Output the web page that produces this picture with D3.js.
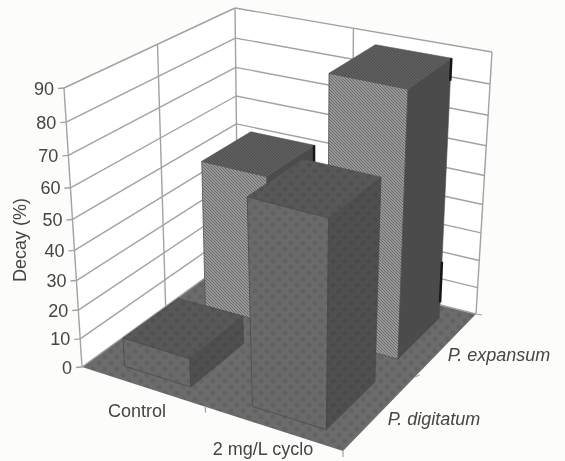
<!DOCTYPE html>
<html><head><meta charset="utf-8">
<script src="https://cdn.jsdelivr.net/npm/d3@7/dist/d3.min.js"></script>
<style>html,body{margin:0;padding:0;background:#fcfcfb}svg{display:block}text{font-family:"Liberation Sans",Arial,sans-serif;fill:#444}</style>
</head><body><svg id="c" width="565" height="461"></svg>
<script>
const categories=["Control","2 mg/L cyclo"];
const seriesNames=["P. digitatum","P. expansum"];
const digitatum=[10,68];
const expansum=[52,89];
const zTicks=[0,10,20,30,40,50,60,70,80,90];

// Perspective frame of the 3D plot (left, front, right, back corners)
const floorQuad=[[82,367],[343,451],[476,314],[238,254]];
const ceilQuad=[[64,88],[349,160],[492,52],[235,8]];
function squareToQuad(q){
  const [[x0,y0],[x1,y1],[x2,y2],[x3,y3]]=q;
  const dx1=x1-x2,dx2=x3-x2,sx=x0-x1+x2-x3,dy1=y1-y2,dy2=y3-y2,sy=y0-y1+y2-y3;
  const d=dx1*dy2-dx2*dy1;
  const g=(sx*dy2-dx2*sy)/d,h=(dx1*sy-sx*dy1)/d;
  const a=x1-x0+g*x1,b=x3-x0+h*x3,c=x0,e=y1-y0+g*y1,f=y3-y0+h*y3,k=y0;
  return (s,t)=>{const w=g*s+h*t+1;return [(a*s+b*t+c)/w,(e*s+f*t+k)/w];};
}
const Hf=squareToQuad(floorQuad),Hc=squareToQuad(ceilQuad);
const zScale=d3.scaleLinear().domain([0,90]).range([0,1]);
const warp=t=>t/(t+(1-t)*1.114);
function P(s,t,z){const a=Hf(s,t),b=Hc(s,t),w=warp(zScale(z));return [a[0]+(b[0]-a[0])*w,a[1]+(b[1]-a[1])*w];}
const uBand=d3.scaleBand().domain(categories).range([0.012,1.012]).paddingInner(0.468).paddingOuter(0.219);
const vBand=d3.scaleBand().domain(seriesNames).range([-0.008,0.992]).paddingInner(0.34).paddingOuter(0.17);

const svg=d3.select("#c");
const defs=svg.append("defs");
const hatch=defs.append("pattern").attr("id","hatch").attr("patternUnits","userSpaceOnUse").attr("width",3).attr("height",3);
hatch.append("rect").attr("width",3).attr("height",3).attr("fill","#989898");
hatch.append("path").attr("d","M-1,-1L4,4M-1,2L1,4M2,-1L4,1").attr("stroke","#6a6a6a").attr("stroke-width",1);
const tex=(id,bg,fg)=>{const p=defs.append("pattern").attr("id",id).attr("patternUnits","userSpaceOnUse").attr("width",12).attr("height",12);
  p.append("rect").attr("width",12).attr("height",12).attr("fill",bg);
  p.append("circle").attr("cx",3).attr("cy",3).attr("r",2.6).attr("fill",fg);
  p.append("circle").attr("cx",9).attr("cy",9).attr("r",2.6).attr("fill",fg);};
tex("dkFront","#6a6a6a","#626262");tex("dkTop","#585858","#515151");tex("dkSide","#4f4f4f","#4a4a4a");tex("floor","#6c6c6c","#646464");
const hTop=defs.append("pattern").attr("id","hTop").attr("patternUnits","userSpaceOnUse").attr("width",3).attr("height",3);
hTop.append("rect").attr("width",3).attr("height",3).attr("fill","#5e5e5e");
hTop.append("path").attr("d","M-1,-1L4,4").attr("stroke","#4f4f4f");
defs.append("filter").attr("id","soft").append("feGaussianBlur").attr("stdDeviation",0.45);

const g=svg.append("g").attr("filter","url(#soft)");
const line=d3.line();
const poly=(pts,fill,stroke,sw)=>g.append("path").attr("d",line(pts)+"Z").attr("fill",fill).attr("stroke",stroke||"none").attr("stroke-width",sw||0).attr("stroke-linejoin","round");
const seg=(a,b,c,w)=>g.append("path").attr("d",line([a,b])).attr("stroke",c).attr("stroke-width",w).attr("fill","none");

// walls
poly([P(0,0,0),P(0,1,0),P(0,1,90),P(0,0,90)],"#ffffff");
poly([P(0,1,0),P(1,1,0),P(1,1,90),P(0,1,90)],"#ffffff");
// floor
poly([P(0,0,0),P(1,0,0),P(1,1,0),P(0,1,0)],"url(#floor)");
const gc="#a2a2a2";
zTicks.forEach(z=>{
  seg(P(0,0,z),P(0,1,z),gc,1.4);
  seg(P(0,1,z),P(1,1,z),gc,1.4);
  const a=P(0,0,z);
  seg([a[0]-6,a[1]+0.5],a,gc,1.4);
  g.append("text").attr("x",a[0]-10).attr("y",a[1]+6.5).attr("text-anchor","end").attr("font-size",18).text(z);
});
[[0,0],[0,0.5],[0,1],[0.5,1],[1,1]].forEach(([s,t])=>seg(P(s,t,0),P(s,t,90),gc,1.4));
// category and series ticks
const t1=P(0.5,0,0);seg(t1,[t1[0]+0.5,t1[1]+6],gc,1.2);
const t2=P(1,0.5,0);seg(t2,[t2[0]+5,t2[1]-2],gc,1.2);
const t3=P(1,0,0);seg(t3,[t3[0],t3[1]+6],gc,1.2);
const t4=P(1,1,0);seg(t4,[t4[0]+6,t4[1]+1],gc,1.2);

function bar(cat,ser,val,front,top,side,edge){
  const s0=uBand(cat),s1=s0+uBand.bandwidth(),t0=vBand(ser),t1=t0+vBand.bandwidth();
  poly([P(s0,t0,0),P(s1,t0,0),P(s1,t0,val),P(s0,t0,val)],front,edge,0.8);
  poly([P(s1,t0,0),P(s1,t1,0),P(s1,t1,val),P(s1,t0,val)],side,edge,0.6);
  poly([P(s0,t0,val),P(s1,t0,val),P(s1,t1,val),P(s0,t1,val)],top,edge,0.6);
  return {a:z=>P(s1,t1,z)};
}
const b3=bar(categories[0],seriesNames[1],expansum[0],"url(#hatch)","url(#hTop)","#4c4c4c","#505050");
const b4=bar(categories[1],seriesNames[1],expansum[1],"url(#hatch)","url(#hTop)","#4c4c4c","#505050");
// dark streaks on the back edges of the tall bars
seg(b3.a(expansum[0]),b3.a(expansum[0]-7),"#151515",2.5);
seg(b4.a(expansum[1]),b4.a(expansum[1]-7),"#151515",2.5);
seg(b4.a(21),b4.a(6),"#151515",2.5);
bar(categories[0],seriesNames[0],digitatum[0],"url(#dkFront)","url(#dkTop)","url(#dkSide)","#4a4a4a");
bar(categories[1],seriesNames[0],digitatum[1],"url(#dkFront)","url(#dkTop)","url(#dkSide)","#4a4a4a");

// labels
const lab=(x,y,t,o={})=>g.append("text").attr("x",x).attr("y",y).attr("font-size",o.size||18).attr("text-anchor",o.anchor||"middle").attr("font-style",o.style||"normal").attr("transform",o.rot?`rotate(${o.rot} ${x} ${y})`:null).text(t);
lab(137,417,categories[0]);
lab(263,455,categories[1]);
lab(434,425,seriesNames[0],{style:"italic"});
lab(499,361,seriesNames[1],{style:"italic"});
lab(26,240,"Decay (%)",{rot:-90});
</script></body></html>
